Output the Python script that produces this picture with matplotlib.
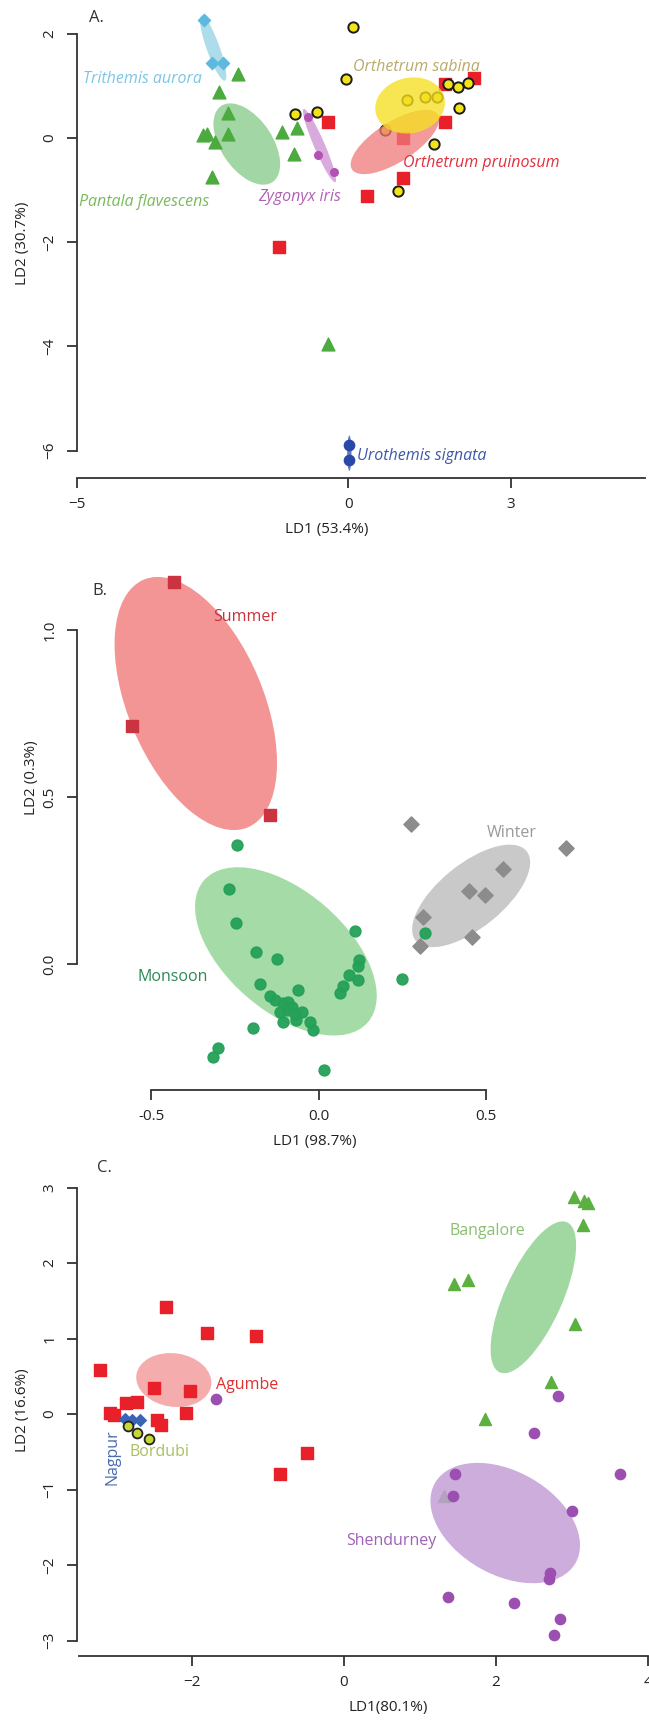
import matplotlib
matplotlib.use("Agg")
import matplotlib.pyplot as plt
from matplotlib.patches import Ellipse

plt.rcParams['font.family'] = ['Open Sans', 'DejaVu Sans']
plt.rcParams['axes.unicode_minus'] = True

# ---------------- A. species ----------------
tri_x = [-2.66, -2.51, -2.30]
tri_y = [2.26, 1.44, 1.44]

pan_x = [-2.03, -2.38, -2.21, -2.67, -2.60, -2.46, -2.22, -2.52, -1.22, -0.94, -1.00, -0.37]
pan_y = [1.22, 0.88, 0.47, 0.05, 0.07, -0.08, 0.08, -0.75, 0.12, 0.18, -0.31, -3.96]

zyg_x = [-0.74, -0.55, -0.26]
zyg_y = [0.39, -0.33, -0.65]

sab_x = [0.08, -0.05, -0.98, -0.57, 1.08, 1.42, 1.63, 1.83, 2.02, 2.21, 2.05, 1.58, 0.91, 0.68]
sab_y = [2.13, 1.13, 0.46, 0.50, 0.72, 0.79, 0.79, 1.03, 0.98, 1.06, 0.58, -0.12, -1.02, 0.15]

pru_x = [2.32, 1.78, 1.78, -0.37, 1.00, 1.00, 0.34, -1.27]
pru_y = [1.14, 1.04, 0.30, 0.30, 0.00, -0.78, -1.12, -2.10]

uro_x = [0.02, 0.01]
uro_y = [-5.90, -6.19]

# ---------------- B. seasons ----------------
sum_x = [-0.431, -0.558, -0.146]
sum_y = [1.145, 0.713, 0.446]

win_x = [0.276, 0.737, 0.550, 0.448, 0.495, 0.311, 0.457, 0.301]
win_y = [0.419, 0.346, 0.284, 0.220, 0.207, 0.142, 0.082, 0.054]

mon_x = [-0.245, -0.267, -0.247, -0.188, -0.124, 0.108, 0.121, 0.116, 0.090, 0.118,
         0.073, 0.063, -0.175, -0.061, -0.146, -0.131, -0.106, -0.091, -0.081, -0.096,
         -0.116, -0.071, -0.051, -0.106, -0.068, -0.026, -0.018, -0.197, -0.302, -0.315,
         0.016, 0.248, 0.317]
mon_y = [0.356, 0.224, 0.122, 0.035, 0.016, 0.100, 0.012, -0.006, -0.033, -0.048,
         -0.066, -0.088, -0.060, -0.078, -0.095, -0.108, -0.118, -0.113, -0.128, -0.138,
         -0.143, -0.148, -0.143, -0.173, -0.168, -0.173, -0.198, -0.191, -0.251, -0.278,
         -0.317, -0.045, 0.092]

# ---------------- C. sites ----------------
agu_x = [-2.34, -1.80, -1.16, -3.21, -2.50, -2.02, -2.86, -2.72, -3.08, -3.02,
         -2.07, -2.46, -2.41, -0.48, -0.84]
agu_y = [1.42, 1.07, 1.03, 0.58, 0.34, 0.31, 0.14, 0.16, 0.02, -0.01,
         0.01, -0.08, -0.14, -0.51, -0.79]

nag_x = [-2.88, -2.79, -2.68]
nag_y = [-0.07, -0.08, -0.08]

bor_x = [-2.84, -2.72, -2.56]
bor_y = [-0.16, -0.25, -0.33]

ban_x = [3.03, 3.16, 3.22, 3.15, 1.45, 1.63, 3.04, 2.73, 1.86, 1.32]
ban_y = [2.87, 2.82, 2.80, 2.50, 1.72, 1.78, 1.19, 0.43, -0.06, -1.09]

she_x = [-1.68, 2.82, 2.51, 1.46, 1.44, 3.64, 3.00, 2.71, 2.70, 1.37, 2.24, 2.84, 2.77]
she_y = [0.20, 0.24, -0.25, -0.79, -1.09, -0.80, -1.29, -2.11, -2.19, -2.43, -2.50, -2.71, -2.93]

W, H = 649, 1720
fig = plt.figure(figsize=(W / 100, H / 100), dpi=100)


def add_panel(left, top, right, bottom):
    return fig.add_axes([left / W, 1 - bottom / H, (right - left) / W, (bottom - top) / H])


def r_style(ax, xb, yb):
    for s in ['top', 'right']:
        ax.spines[s].set_visible(False)
    for s in ['left', 'bottom']:
        ax.spines[s].set_color('#333333')
        ax.spines[s].set_linewidth(1.3)
    ax.spines['left'].set_bounds(*yb)
    ax.spines['bottom'].set_bounds(*xb)
    ax.tick_params(length=7, width=1.3, color='#333333', labelsize=11,
                   labelcolor='#222222', pad=7)
    for lab in ax.get_yticklabels():
        lab.set_rotation(90)
        lab.set_va('center')


def axis_labels(ax, xlab, ylab, xpos, ypos):
    # label positions are given in axes fraction, centred on the text
    ax.set_xlabel(xlab, fontsize=11, color='#222222', va='center')
    ax.xaxis.set_label_coords(*xpos)
    ax.set_ylabel(ylab, fontsize=11, color='#222222', va='center')
    ax.yaxis.set_label_coords(*ypos)


def ell(ax, cx, cy, a, b, ang, color, alpha=0.75, z=1):
    ax.add_patch(Ellipse((cx, cy), 2 * a, 2 * b, angle=ang, facecolor=color,
                         edgecolor='none', alpha=alpha, zorder=z))


lab_kw = dict(fontsize=11.5)

# ---- panel A ----
axA = add_panel(77, 5, 645, 478)
axA.set_xlim(-5, 5.47)
axA.set_ylim(-6.526, 2.547)
axA.set_xticks([-5, 0, 3])
axA.set_yticks([2, 0, -2, -4, -6])
r_style(axA, (-5, 5.47), (-6, 2))

ell(axA, -2.49, 1.72, 0.66, 0.12, -71, '#9fd6e8', 0.85)
ell(axA, -1.87, -0.12, 0.87, 0.48, -58, '#93cf95', 0.85)
ell(axA, -0.53, -0.15, 0.76, 0.10, -67.5, '#d39bd6', 0.85)
ell(axA, 0.02, -6.05, 0.34, 0.04, 90, '#4a63b8', 0.85)

axA.scatter(tri_x, tri_y, marker='D', s=38, color='#5db9de', zorder=2)
axA.scatter(pan_x, pan_y, marker='^', s=85, color='#4caa3e', zorder=2)
axA.scatter(zyg_x, zyg_y, marker='o', s=30, color='#b452b4', zorder=2)
axA.scatter(pru_x, pru_y, marker='s', s=70, color='#e8202a', zorder=2)
axA.scatter(sab_x, sab_y, marker='o', s=55, color='#f2e418', edgecolor='#1a1a1a',
            linewidth=1.4, zorder=2.5)
axA.scatter(uro_x, uro_y, marker='o', s=55, color='#2a48a8', zorder=2)

ell(axA, 0.86, -0.08, 0.95, 0.38, 34, '#f07a7a', 0.75, z=3)
ell(axA, 1.14, 0.62, 0.65, 0.53, 15, '#f5e020', 0.78, z=4)

axA.text(-4.89, 1.13, 'Trithemis aurora', color='#7cc6e4', style='italic', va='center', **lab_kw)
axA.text(-4.96, -1.23, 'Pantala flavescens', color='#78bb5a', style='italic', va='center', **lab_kw)
axA.text(-1.66, -1.13, 'Zygonyx iris', color='#b060b4', style='italic', va='center', **lab_kw)
axA.text(0.09, 1.36, 'Orthetrum sabina', color='#b8ab6a', style='italic', va='center', **lab_kw)
axA.text(1.00, -0.49, 'Orthetrum pruinosum', color='#e0303c', style='italic', va='center', **lab_kw)
axA.text(0.17, -6.10, 'Urothemis signata', color='#3c58aa', style='italic', va='center', **lab_kw)
axA.text(-4.65, 2.30, 'A.', fontsize=12, color='#333333', ha='center', va='center')
axis_labels(axA, 'LD1 (53.4%)', 'LD2 (30.7%)',
            ((327 - 77) / 568, -(530 - 478) / 473),
            (-(77 - 23) / 568, (478 - 243) / 473))

# ---- panel B ----
axB = add_panel(77, 545, 645, 1090)
axB.set_xlim(-0.7216, 0.974)
axB.set_ylim(-0.377, 1.2545)
axB.set_xticks([-0.5, 0.0, 0.5])
axB.set_yticks([0.0, 0.5, 1.0])
axB.xaxis.set_major_formatter(matplotlib.ticker.FormatStrFormatter('%.1f'))
axB.yaxis.set_major_formatter(matplotlib.ticker.FormatStrFormatter('%.1f'))
r_style(axB, (-0.5, 0.5), (0.0, 1.0))

ell(axB, -0.367, 0.780, 0.402, 0.202, -67.3, '#f28a8a', 0.9)
ell(axB, -0.098, 0.038, 0.324, 0.179, -41, '#9bd89d', 0.9)
ell(axB, 0.455, 0.204, 0.213, 0.096, 39, '#c4c4c4', 0.9)

axB.scatter(sum_x, sum_y, marker='s', s=75, color='#cc3340', zorder=2)
axB.scatter(win_x, win_y, marker='D', s=60, color='#8c8c8c', zorder=2)
axB.scatter(mon_x, mon_y, marker='o', s=62, color='#24a058', alpha=0.95, zorder=2)

axB.text(-0.221, 1.038, 'Summer', color='#c8323c', ha='center', va='center', **lab_kw)
axB.text(0.576, 0.393, 'Winter', color='#999999', ha='center', va='center', **lab_kw)
axB.text(-0.435, -0.038, 'Monsoon', color='#2b8a55', ha='center', va='center', **lab_kw)
axB.text(-0.653, 1.117, 'B.', fontsize=12, color='#333333', ha='center', va='center')
axis_labels(axB, 'LD1 (98.7%)', 'LD2 (0.3%)',
            ((315 - 77) / 568, -(1142 - 1090) / 545),
            (-(77 - 31) / 568, (1090 - 778) / 545))

# ---- panel C ----
axC = add_panel(77, 1150, 649, 1656)
axC.set_xlim(-3.51, 4.017)
axC.set_ylim(-3.205, 3.497)
axC.set_xticks([-2, 0, 2, 4])
axC.set_yticks([-3, -2, -1, 0, 1, 2, 3])
r_style(axC, (-3.48, 4), (-3, 3))

ell(axC, 2.495, 1.546, 1.088, 0.38, 66, '#97d397', 0.9)
axC.scatter(ban_x, ban_y, marker='^', s=75, color='#5cb040', zorder=2)
ell(axC, 2.125, -1.444, 1.066, 0.684, -30, '#c49fd6', 0.85, z=2.5)
ell(axC, -2.236, 0.450, 0.497, 0.354, -8, '#f4a3a3', 0.9)

axC.scatter(agu_x, agu_y, marker='s', s=70, color='#e8202a', zorder=3)
axC.scatter(nag_x, nag_y, marker='D', s=35, color='#3c64b4', zorder=3)
axC.scatter(bor_x, bor_y, marker='o', s=50, color='#c8d832', edgecolor='#222222',
            linewidth=1.3, zorder=3)
axC.scatter(she_x, she_y, marker='o', s=55, color='#9b4fb0', zorder=3)

axC.text(-1.68, 0.38, 'Agumbe', color='#e03030', va='center', **lab_kw)
axC.text(-3.04, -0.57, 'Nagpur', color='#4a6cb0', rotation=90, ha='center', va='center', **lab_kw)
axC.text(-2.42, -0.50, 'Bordubi', color='#a8c060', ha='center', va='center', **lab_kw)
axC.text(1.89, 2.43, 'Bangalore', color='#88c070', ha='center', va='center', **lab_kw)
axC.text(0.63, -1.68, 'Shendurney', color='#a060b8', ha='center', va='center', **lab_kw)
axC.text(-3.155, 3.254, 'C.', fontsize=12, color='#333333', ha='center', va='center')
axis_labels(axC, 'LD1(80.1%)', 'LD2 (16.6%)',
            ((388 - 77) / 572, -(1708 - 1656) / 506),
            (-(77 - 23) / 572, (1656 - 1410) / 506))

fig.savefig('out.png', dpi=100, facecolor='white')
